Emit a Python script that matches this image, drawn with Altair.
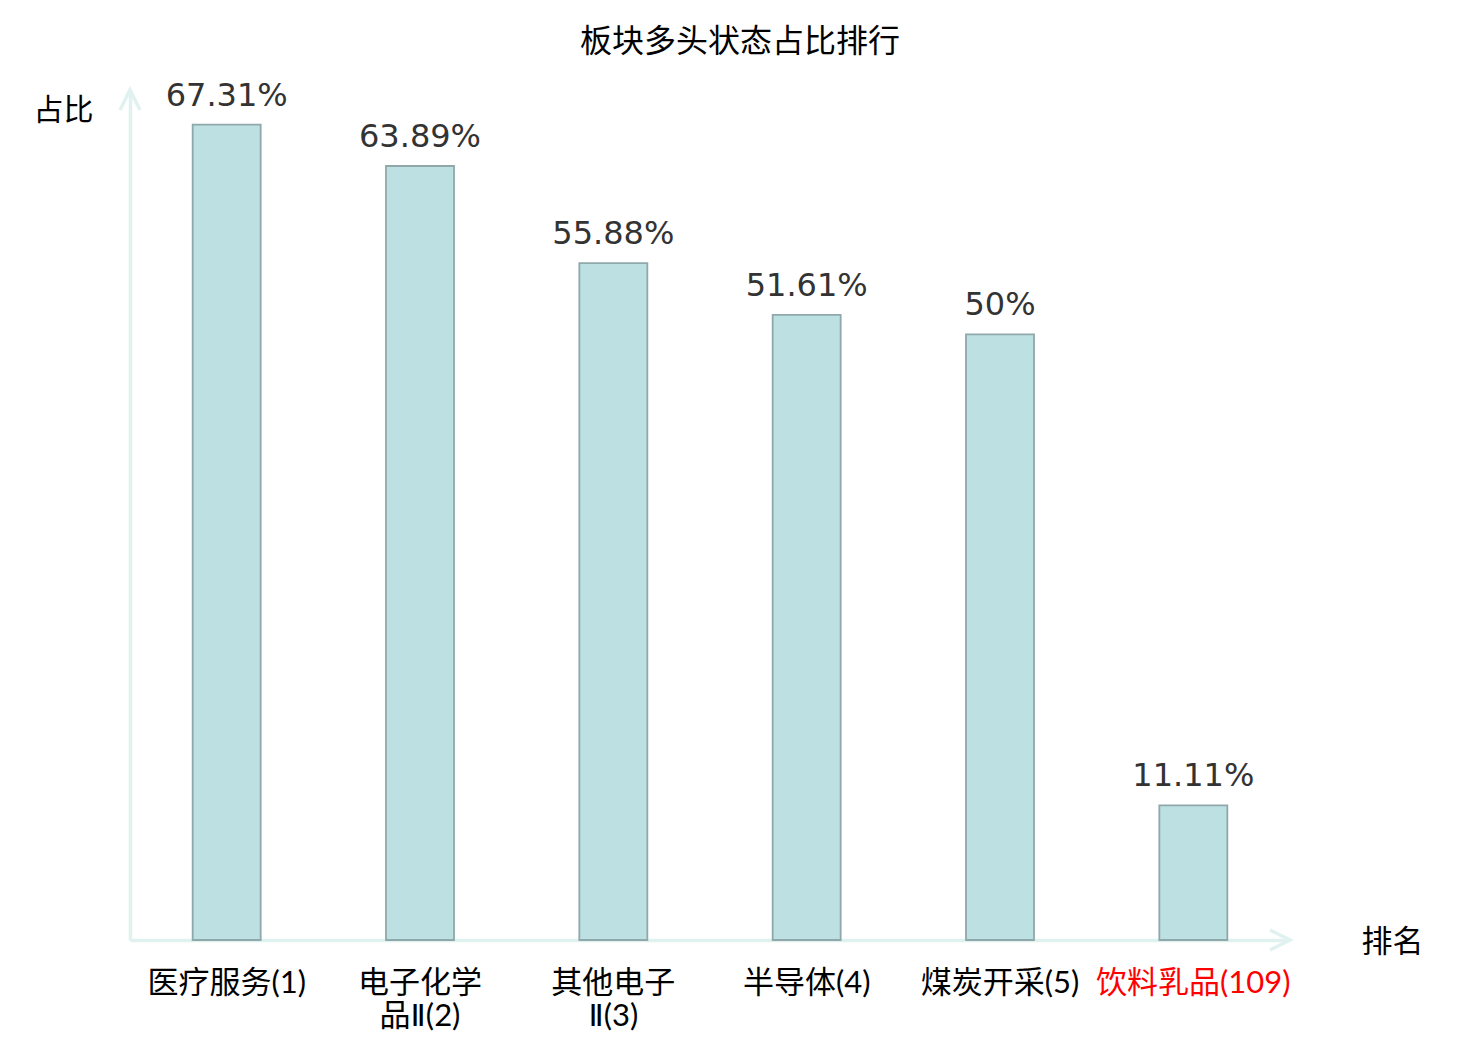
import altair as alt
import pandas as pd

categories = ["医疗服务(1)", "电子化学|品Ⅱ(2)", "其他电子|Ⅱ(3)", "半导体(4)", "煤炭开采(5)", "饮料乳品(109)"]
values = [67.31, 63.89, 55.88, 51.61, 50, 11.11]
highlight = "饮料乳品(109)"

df = pd.DataFrame({"cat": categories, "v": values})

AXIS_COLOR = "#dff2ef"
FONT = "Noto Sans CJK SC"
LABEL_FONT = "Lato, 'DejaVu Sans', 'Noto Sans CJK SC'"

x = alt.X(
    "cat:N",
    sort=None,
    scale=alt.Scale(paddingInner=0, paddingOuter=0),
    axis=alt.Axis(
        title="排名",
        titleX=1262,
        titleY=2,
        titleAlign="center",
        titleBaseline="middle",
        titleAngle=0,
        titleFont=FONT,
        titleFontSize=31,
        titleFontWeight="normal",
        titleColor="#000000",
        labelAngle=0,
        labelFont=LABEL_FONT,
        labelFontSize=31,
        labelLineHeight=33,
        labelPadding=28,
        labelLimit=0,
        labelOverlap=False,
        labelExpr="split(datum.label, '|')",
        labelColor={"condition": {"test": f"datum.value == '{highlight}'", "value": "#ff0000"}, "value": "#000000"},
        ticks=False,
        domainColor=AXIS_COLOR,
        domainWidth=3.5,
        grid=False,
    ),
)

y = alt.Y(
    "v:Q",
    scale=alt.Scale(domain=[0, 70], nice=False),
    axis=alt.Axis(
        title="占比",
        titleX=-67,
        titleY=18,
        titleAlign="center",
        titleBaseline="middle",
        titleAngle=0,
        titleFont=FONT,
        titleFontSize=30,
        titleFontWeight="normal",
        titleColor="#000000",
        labels=False,
        ticks=False,
        grid=False,
        domainColor=AXIS_COLOR,
        domainWidth=3.5,
    ),
)

bars = alt.Chart(df).mark_bar(
    size=68, fill="#bde0e3", stroke="#8fa8aa", strokeWidth=1.8
).encode(x=x, y=y)

text = alt.Chart(df).transform_calculate(
    lab="datum.v + '%'"
).mark_text(
    baseline="alphabetic", dy=-19, fontSize=32, font="DejaVu Sans", color="#333333"
).encode(x=x, y=y, text="lab:N")

arrow_y = alt.Chart(alt.Data(values=[{"a": 1}])).mark_point(
    shape="M-1,1 L0,-1 L1,1", filled=False, stroke=AXIS_COLOR, strokeWidth=3.5, size=400, opacity=1
).encode(x=alt.value(0), y=alt.value(8))

arrow_x = alt.Chart(alt.Data(values=[{"a": 1}])).mark_point(
    shape="M-1,-1 L1,0 L-1,1", filled=False, stroke=AXIS_COLOR, strokeWidth=3.5, size=400, opacity=1
).encode(x=alt.value(1150), y=alt.value(848))

chart = alt.layer(bars, text, arrow_y, arrow_x).properties(
    width=1160,
    height=848,
    title=alt.TitleParams(
        "板块多头状态占比排行",
        font=FONT,
        fontSize=32,
        fontWeight="normal",
        color="#000000",
        anchor="middle",
        dx=30,
        offset=21,
    ),
    autosize=alt.AutoSizeParams(type="none"),
    padding={"left": 122, "top": 84, "right": 160, "bottom": 96},
).configure_view(stroke=None)

chart.save("out.html", embed_options={"renderer": "svg", "actions": False})
